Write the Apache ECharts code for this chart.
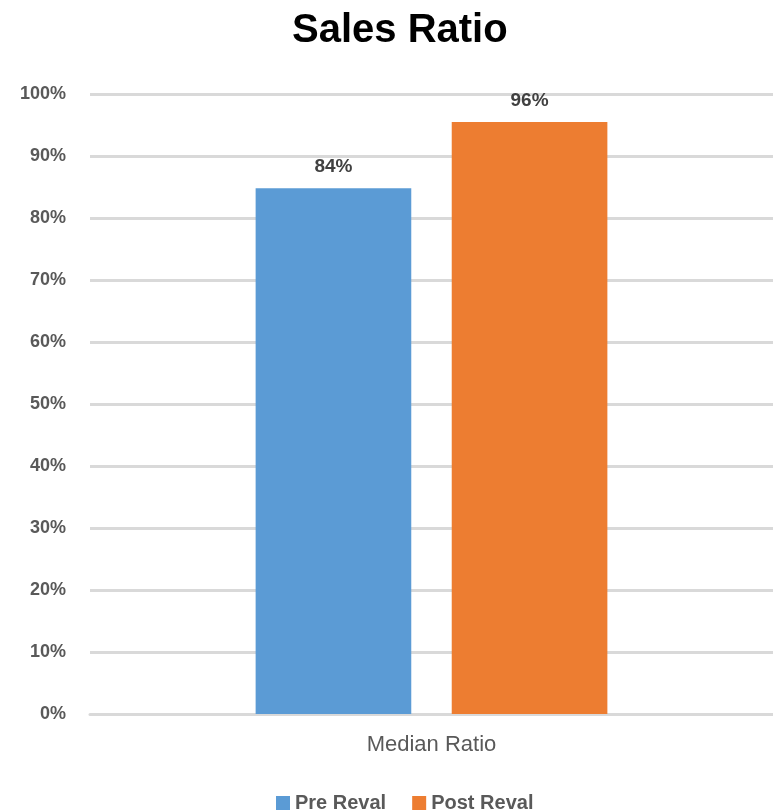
<!DOCTYPE html>
<html><head><meta charset="utf-8">
<script src="https://cdn.jsdelivr.net/npm/echarts@6/dist/echarts.min.js"></script>
<style>html,body{margin:0;padding:0;background:#fff}#c{width:773px;height:810px}</style>
</head><body><div id="c"></div>
<script>
const categories = ['Median Ratio'];
const seriesNames = ['Pre Reval', 'Post Reval'];
const preReval = [0.848];
const postReval = [0.955];
const preLabels = ['84%'];
const postLabels = ['96%'];
const yTicks = [0, 0.1, 0.2, 0.3, 0.4, 0.5, 0.6, 0.7, 0.8, 0.9, 1.0];

const chart = echarts.init(document.getElementById('c'));
const labelStyle = (arr) => ({
  show: true, position: 'top', distance: 12,
  fontFamily: 'Liberation Sans', fontWeight: 'bold', fontSize: 19, color: '#404040',
  formatter: p => arr[p.dataIndex]
});
chart.setOption({
  animation: false,
  title: {
    text: 'Sales Ratio', left: 287, top: 6,
    textStyle: { fontFamily: 'Liberation Sans', fontWeight: 'bold', fontSize: 40, color: '#000' }
  },
  legend: {
    data: seriesNames, left: 271, top: 788, itemWidth: 14, itemHeight: 14, itemGap: 26,
    icon: 'rect',
    textStyle: { fontFamily: 'Liberation Sans', fontWeight: 'bold', fontSize: 20, color: '#595959' }
  },
  grid: { left: 90, right: 0, top: 94, bottom: 96, containLabel: false },
  xAxis: {
    type: 'category', data: categories,
    axisLine: { lineStyle: { color: '#d9d9d9', width: 3 } },
    axisTick: { show: false },
    axisLabel: { margin: 20, fontFamily: 'Liberation Sans', fontSize: 22, color: '#595959' }
  },
  yAxis: {
    type: 'value', min: yTicks[0], max: yTicks[yTicks.length - 1], interval: 0.1,
    axisLine: { show: false }, axisTick: { show: false },
    splitLine: { lineStyle: { color: '#d9d9d9', width: 3 } },
    axisLabel: {
      margin: 24, fontFamily: 'Liberation Sans', fontWeight: 'bold', fontSize: 18, color: '#595959',
      formatter: v => Math.round(v * 100) + '%'
    }
  },
  series: [
    { name: seriesNames[0], type: 'bar', data: preReval, itemStyle: { color: '#5B9BD5' },
      barGap: '26%', barCategoryGap: '48.5%', label: labelStyle(preLabels) },
    { name: seriesNames[1], type: 'bar', data: postReval, itemStyle: { color: '#ED7D31' },
      barGap: '26%', barCategoryGap: '48.5%', label: labelStyle(postLabels) }
  ]
});
</script></body></html>
